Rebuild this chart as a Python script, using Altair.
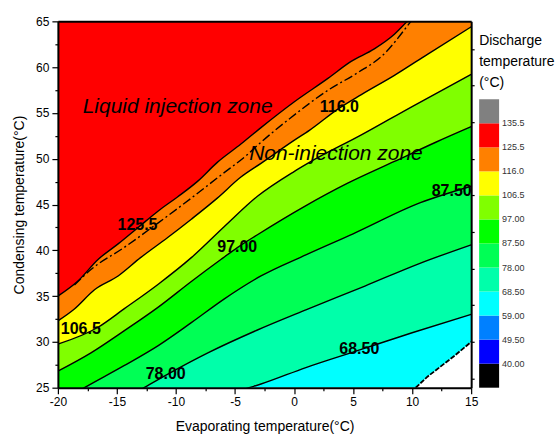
import altair as alt
import pandas as pd

# ---------------- data ----------------
# x = evaporating temperature (°C), y = condensing temperature (°C)
edge_x = [-20.0, 10.3, 11.3, 12.4, 13.6, 15.0]          # lower edge of the data region
edge_y = [25.0, 25.0, 26.2, 27.3, 28.5, 30.0]

c685_x = [-20.0, -3.8, -2.8, 1.0, 5.5, 10.0, 15.0]
c685_y = [17.7, 25.0, 25.4, 27.2, 29.1, 31.0, 33.0]

c780_x = [-20.0, -12.7, -10.8, -7.3, -3.1, 1.0, 6.0, 10.5, 15.0]
c780_y = [19.5, 25.0, 26.4, 28.8, 31.3, 33.5, 36.1, 38.5, 40.6]

c875_x = [-20.0, -17.75, -14.4, -11.5, -8.7, -5.9, -2.8, 1.0, 5.0, 10.7, 15.0]
c875_y = [23.3, 25.0, 27.4, 29.6, 32.1, 34.7, 37.2, 39.5, 41.8, 45.2, 47.0]

c970_x = [-20.0, -17.2, -14.4, -11.5, -8.7, -6.2, -4.8, -3.1, 0.9, 4.5, 8.5, 12.0, 15.0]
c970_y = [26.8, 28.8, 31.2, 33.8, 36.6, 39.0, 40.3, 41.7, 44.8, 47.3, 49.7, 51.8, 53.5]

c1065_x = [-20.0, -16.6, -14.4, -11.5, -8.7, -5.9, -3.1, 0.0, 1.3, 5.7, 10.0, 15.0]
c1065_y = [29.75, 31.6, 33.6, 36.3, 39.2, 42.6, 45.9, 48.6, 49.6, 52.6, 55.7, 59.2]

c1160_x = [-20.0, -18.6, -16.9, -14.9, -13.0, -10.7, -8.7, -6.5, -4.5, -2.8, 0.0, 1.3,
           3.8, 5.7, 8.5, 11.3, 15.0]
c1160_y = [32.3, 33.6, 35.7, 37.2, 39.2, 41.4, 43.4, 45.7, 48.0, 49.5, 52.0, 53.1,
           55.5, 57.0, 59.1, 61.4, 64.4]

c1255_x = [-20.0, -18.3, -16.6, -14.9, -13.2, -11.5, -9.9, -8.2, -6.5, -4.5, -2.8, 0.0,
           2.9, 4.8, 6.8, 8.5, 9.6, 12.0, 15.0]
c1255_y = [35.0, 36.65, 39.0, 40.7, 42.5, 44.3, 45.8, 47.5, 49.6, 51.6, 53.4, 56.2,
           58.8, 60.6, 62.0, 63.6, 65.0, 67.3, 70.0]

inj_x = [-18.6, -17.2, -14.4, -11.5, -8.7, -6.2, -4.0, -2.8, -0.25, 2.9, 5.4, 7.6, 9.6, 9.9]
inj_y = [36.2, 37.9, 40.3, 43.0, 45.7, 48.2, 50.4, 51.8, 54.5, 57.5, 59.4, 61.4, 64.5, 65.0]

# contour labels
lab_text = ["125.5", "116.0", "106.5", "97.00", "87.50", "78.00", "68.50"]
lab_x = [-13.26, 3.84, -18.06, -4.81, 13.35, -10.87, 5.53]
lab_y = [42.8, 55.7, 31.4, 40.4, 46.5, 26.5, 29.2]

zone_text = ["Liquid injection zone", "Non-injection zone"]
zone_x = [-17.9, -3.8]
zone_y = [55.0, 49.85]

# colour legend (bottom -> top)
leg_colors = ["#000000", "#0000FF", "#0080FF", "#00FFFF", "#00FFAA", "#00FF55",
              "#00FF00", "#80FF00", "#FFFF00", "#FF8000", "#FF0000", "#808080"]
leg_labels = ["40.00", "49.50", "59.00", "68.50", "78.00", "87.50", "97.00",
              "106.5", "116.0", "125.5", "135.5"]

x_ticks = [-20 + 2.5 * i for i in range(15)]
y_ticks = [25 + 2.5 * i for i in range(17)]
right_ticks = [26, 30, 34, 38, 42, 46, 50, 54, 58, 62]

FONT = "Liberation Sans"
INTERP = "monotone"
xs = alt.Scale(domain=[-20, 15], nice=False, zero=False)
ys = alt.Scale(domain=[25, 65], nice=False, zero=False)
NOFRAME = alt.ViewBackground(stroke="transparent", strokeWidth=0, strokeOpacity=0)


def df_line(xv, yv):
    return pd.DataFrame({"x": xv, "y": yv, "top": [65.0] * len(xv)})


major_tick = {"condition": {"test": "datum.value % 5 === 0", "value": 6}, "value": 3}
lab_expr = "datum.value % 5 === 0 ? toString(datum.value) : ''"

x_axis = alt.Axis(title="Evaporating temperature(°C)", values=x_ticks, labelExpr=lab_expr,
                  tickSize=major_tick, labelFlush=False, labelOverlap=False, grid=False,
                  domainColor="black", domainWidth=2, tickColor="black", tickWidth=1.2,
                  labelPadding=3, titlePadding=12, zindex=1, labelFont=FONT, labelFontSize=12,
                  labelColor="black", titleFont=FONT, titleFontSize=14,
                  titleFontWeight="normal", titleColor="black")
y_axis = alt.Axis(title="Condensing temperature(°C)", values=y_ticks, labelExpr=lab_expr,
                  tickSize=major_tick, labelFlush=False, labelOverlap=False, grid=False,
                  domainColor="black", domainWidth=2, tickColor="black", tickWidth=1.2,
                  labelPadding=3, titlePadding=9, zindex=1, labelFont=FONT, labelFontSize=12,
                  labelColor="black", titleFont=FONT, titleFontSize=14,
                  titleFontWeight="normal", titleColor="black")

bands = [
    (edge_x, edge_y, "#00FFFF"),
    (c685_x, c685_y, "#00FFAA"),
    (c780_x, c780_y, "#00FF55"),
    (c875_x, c875_y, "#00FF00"),
    (c970_x, c970_y, "#80FF00"),
    (c1065_x, c1065_y, "#FFFF00"),
    (c1160_x, c1160_y, "#FF8000"),
    (c1255_x, c1255_y, "#FF0000"),
]

layers = []
for i, (bx, by, col) in enumerate(bands):
    if i == 0:
        enc = dict(x=alt.X("x:Q", scale=xs, axis=x_axis), y=alt.Y("y:Q", scale=ys, axis=y_axis))
    else:
        enc = dict(x=alt.X("x:Q", scale=xs, axis=None), y=alt.Y("y:Q", scale=ys, axis=None))
    interp = "linear" if i == 0 else INTERP
    layers.append(alt.Chart(df_line(bx, by)).mark_area(color=col, clip=True, opacity=1,
                                                      interpolate=interp)
                  .encode(y2="top:Q", **enc))

for bx, by in [(c685_x, c685_y), (c780_x, c780_y), (c875_x, c875_y), (c970_x, c970_y),
               (c1065_x, c1065_y), (c1160_x, c1160_y), (c1255_x, c1255_y)]:
    layers.append(alt.Chart(df_line(bx, by)).mark_line(color="black", strokeWidth=1.4, clip=True,
                                                      interpolate=INTERP)
                  .encode(x=alt.X("x:Q", scale=xs, axis=None), y=alt.Y("y:Q", scale=ys, axis=None)))

# white-region boundary (dashed)
layers.append(alt.Chart(df_line(edge_x[1:], edge_y[1:])).mark_line(
    color="black", strokeWidth=1.8, strokeDash=[5, 1.5], clip=True)
    .encode(x=alt.X("x:Q", scale=xs, axis=None), y=alt.Y("y:Q", scale=ys, axis=None)))

# injection boundary (dash-dot)
layers.append(alt.Chart(df_line(inj_x, inj_y)).mark_line(
    color="black", strokeWidth=1.4, strokeDash=[9, 3, 2, 3], clip=True, interpolate=INTERP)
    .encode(x=alt.X("x:Q", scale=xs, axis=None), y=alt.Y("y:Q", scale=ys, axis=None)))

# contour labels
lab_df = pd.DataFrame({"x": lab_x, "y": lab_y, "t": lab_text})
layers.append(alt.Chart(lab_df).mark_text(font=FONT, fontSize=16, fontWeight="bold", color="black",
                                         align="center", baseline="middle")
              .encode(x=alt.X("x:Q", scale=xs, axis=None), y=alt.Y("y:Q", scale=ys, axis=None),
                      text="t:N"))

zone_df = pd.DataFrame({"x": zone_x, "y": zone_y, "t": zone_text})
layers.append(alt.Chart(zone_df).mark_text(font=FONT, fontSize=21, fontStyle="italic", color="black",
                                          align="left", baseline="alphabetic")
              .encode(x=alt.X("x:Q", scale=xs, axis=None), y=alt.Y("y:Q", scale=ys, axis=None),
                      text="t:N"))

# frame: top domain and right ticks
frame_df = pd.DataFrame({"x": [-20.0, 15.0], "y": [25.0, 65.0]})
layers.append(alt.Chart(frame_df).mark_point(opacity=0).encode(
    x=alt.X("x:Q", scale=xs, axis=alt.Axis(orient="top", labels=False, ticks=False, title=None,
                                           grid=False, domainColor="black", domainWidth=2, zindex=1)),
    y=alt.Y("y:Q", scale=ys, axis=alt.Axis(orient="right", labels=False, values=right_ticks,
                                           tickSize=3, tickColor="black", tickWidth=1.2, title=None,
                                           grid=False, domainColor="black", domainWidth=2, zindex=1))))

main = alt.layer(*layers).resolve_axis(x="independent", y="independent").properties(
    width=414, height=367)

# ---------------- legend ----------------
ly = alt.Scale(domain=[0, 367 / 24.08], nice=False, zero=False)
blk_df = pd.DataFrame({"lo": list(range(len(leg_colors))),
                       "hi": [i + 1 for i in range(len(leg_colors))],
                       "c": leg_colors})
blocks = alt.Chart(blk_df).mark_rect().encode(
    y=alt.Y("lo:Q", scale=ly, axis=None), y2="hi:Q",
    x=alt.value(0), x2=alt.value(20), color=alt.Color("c:N", scale=None))
ll_df = pd.DataFrame({"pos": [i + 1 for i in range(len(leg_labels))], "t": leg_labels})
leg_text = alt.Chart(ll_df).mark_text(font=FONT, fontSize=9, align="left", baseline="middle",
                                      color="#333333").encode(
    y=alt.Y("pos:Q", scale=ly, axis=None), x=alt.value(23), text="t:N")
leg_title = alt.Chart(pd.DataFrame({"a": [0]})).mark_text(
    text=["Discharge", "temperature", "(°C)"], font=FONT, fontSize=14, align="left",
    baseline="top", lineHeight=21, color="black").encode(x=alt.value(0), y=alt.value(13))
legend = alt.layer(blocks, leg_text, leg_title).properties(width=80, height=367, view=NOFRAME)

chart = alt.hconcat(main, legend, spacing=0).configure_view(
    stroke="transparent", strokeWidth=0, strokeOpacity=0).configure(
    padding={"left": 12, "top": 14, "right": 0, "bottom": 0}, font=FONT, background="white")

chart.save("out.html", embed_options={"renderer": "svg", "actions": False})
